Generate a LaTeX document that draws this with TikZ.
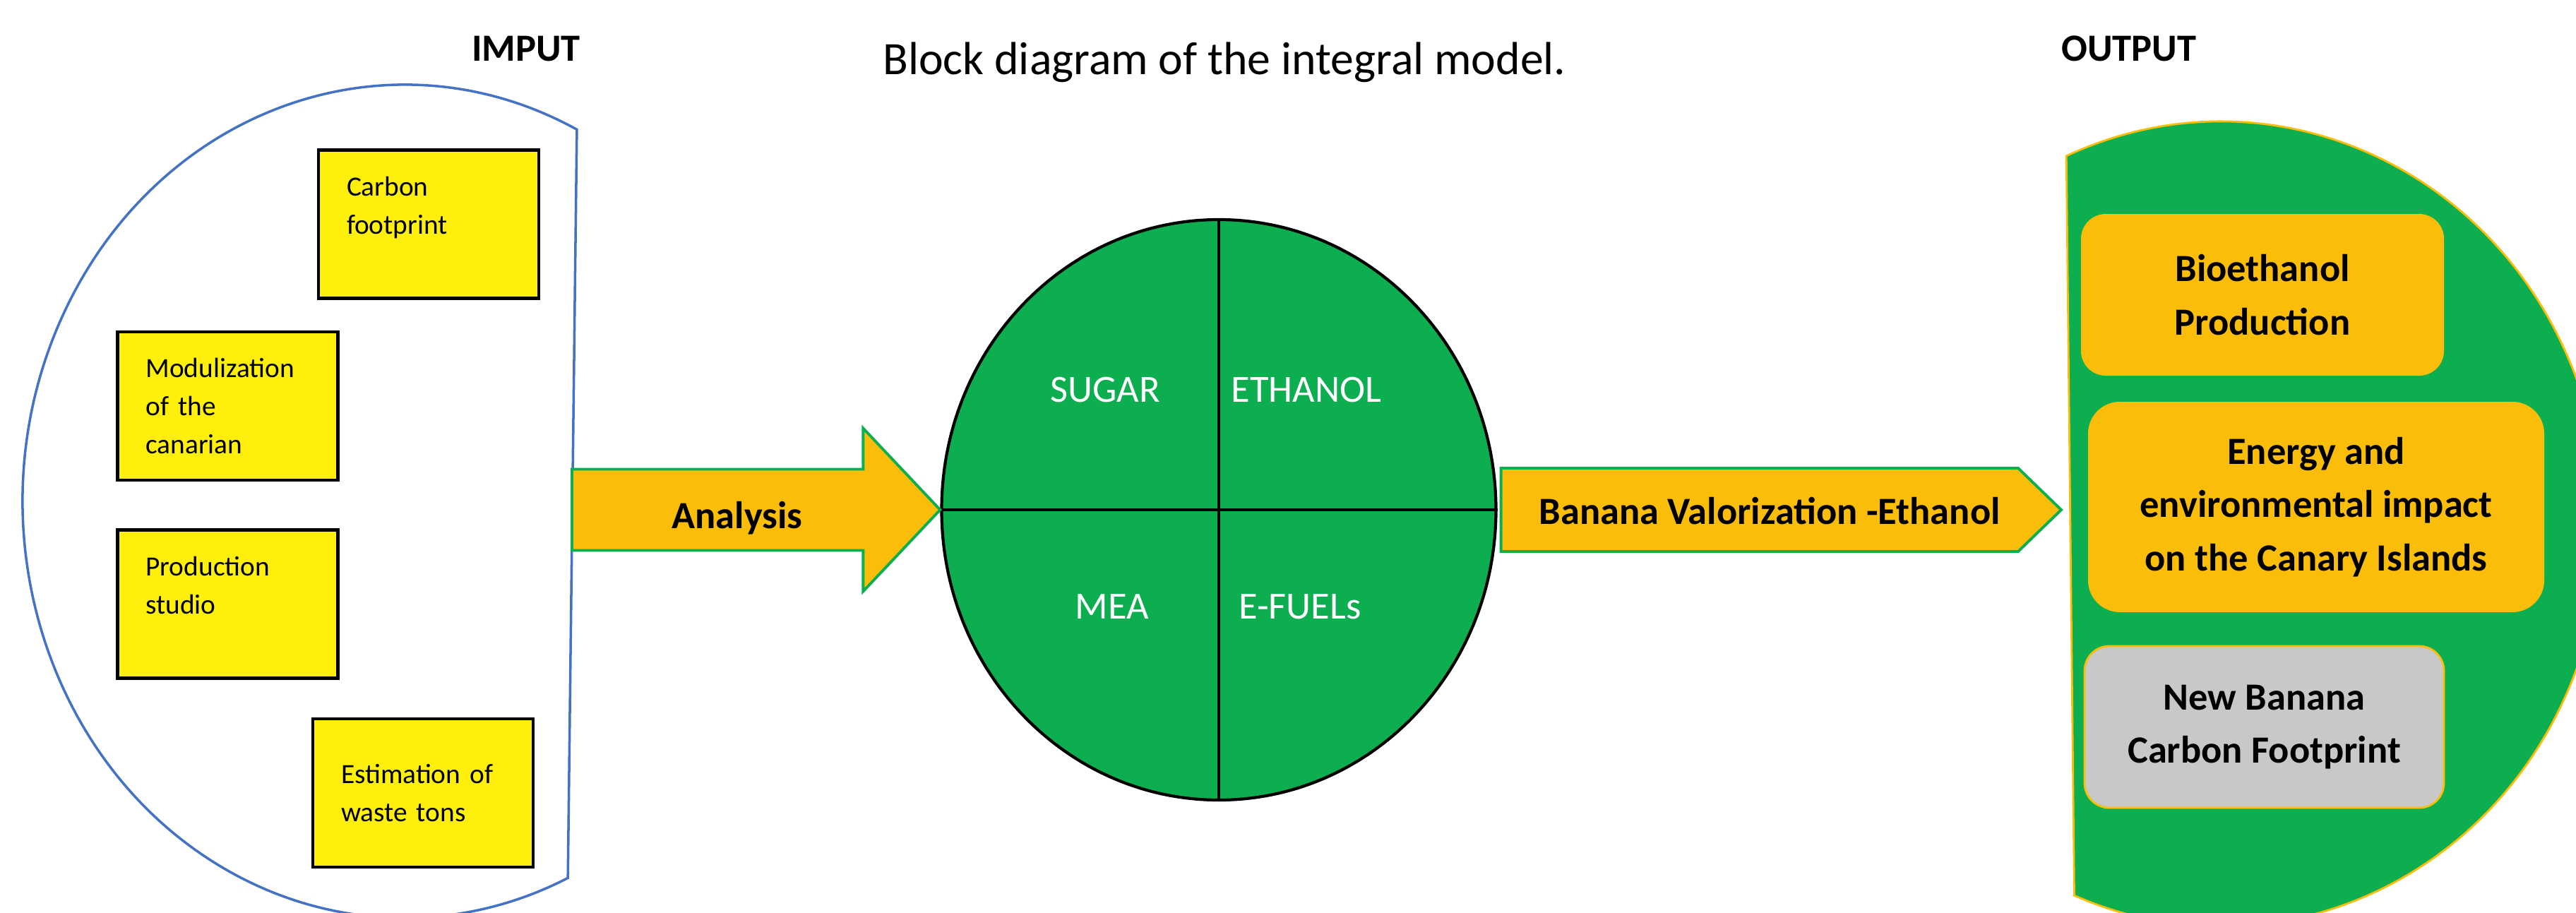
\documentclass[tikz,border=0pt]{standalone}
\usepackage{fontspec}
\setmainfont{Carlito}
\usepackage{xcolor}
\usepackage{tikz}
\usetikzlibrary{
  positioning,
  calc,
  shapes.geometric
}
\definecolor{InBlue}{RGB}{68,114,196}
\definecolor{BoxYellow}{RGB}{255,239,12}
\definecolor{Gold}{RGB}{250,190,10}
\definecolor{LeafGreen}{RGB}{12,174,80}
\definecolor{SoftGray}{RGB}{200,200,200}

\begin{document}
\begin{tikzpicture}[
  font=\fontsize{15.5}{18.6}\selectfont,
  inbox/.style={
    draw=black,
    line width=1.4pt,
    fill=BoxYellow,
    minimum width=3.12cm,
    minimum height=2.1cm,
    text width=2.32cm,
    inner sep=0pt,
    align=left,
    font=\fontsize{11.2}{15.3}\selectfont,
  },
  outbox/.style={
    fill=Gold,
    rounded corners=0.35cm,
    inner sep=0pt,
    align=center,
    font=\bfseries\fontsize{15.5}{21.5}\selectfont,
  },
  blockarrow/.style={draw=LeafGreen, line width=1.1pt, fill=Gold, line join=miter},
  arrowlab/.style={anchor=base, font=\bfseries\fontsize{15.5}{18.6}\selectfont},
  quad/.style={text=white, anchor=base},
  head/.style={font=\bfseries\fontsize{15.5}{18.6}\selectfont, anchor=base},
]
  \useasboundingbox (0,0) rectangle (36.48,12.92);

  % -------- headings --------
  \node[anchor=base, font=\fontsize{18.7}{22}\selectfont] (title) at (17.34,11.87)
    {Block diagram of the integral model.};
  \node[head] (inhead) at (7.45,12.05) {IMPUT};
  \node[head] (outhead) at (30.15,12.05) {OUTPUT};

  % -------- input side: cut ellipse with the four data boxes --------
  \draw[InBlue, line width=1pt]
    ([shift={(5.73,5.82)}]63.2:5.41 and 5.9)
    arc[start angle=63.2, end angle=295.3, x radius=5.41cm, y radius=5.9cm] -- cycle;
  \coordinate (inport) at (8.10,5.70);

  \node[inbox] (carbon) at (6.07,9.745) {Carbon\\footprint\\\mbox{}};
  \node[inbox] (modul) at (3.225,7.17) {Modulization\\of the\\canarian};
  \node[inbox, below=6.6mm of modul] (prod) {Production\\studio\\\mbox{}};
  \node[inbox] (waste) at (5.99,1.69) {Estimation of\\waste tons};

  % -------- central model --------
  \node[ellipse, draw=black, line width=1.2pt, fill=LeafGreen, inner sep=0pt,
        minimum width=7.85cm, minimum height=8.22cm] (core) at (17.26,5.70) {};
  \draw[line width=1pt] (core.north) -- (core.south);
  \draw[line width=1pt] (core.west) -- (core.east);

  \node[quad] (sugar) at ([shift={(-1.61,1.53)}]core.center) {SUGAR};
  \node[quad] (ethanol) at ([shift={(1.24,1.53)}]core.center) {ETHANOL};
  \node[quad] (mea) at ([shift={(-1.51,-1.54)}]core.center) {MEA};
  \node[quad] (efuel) at ([shift={(1.15,-1.54)}]core.center) {E-FUELs};

  % -------- output side --------
  \draw[Gold, line width=0.8pt, fill=LeafGreen]
    ([shift={(31.45,5.50)}]113.9:5.4 and 5.7)
    arc[start angle=113.9, end angle=-112.6, x radius=5.4cm, y radius=5.7cm] -- cycle;
  \coordinate (outtip) at (29.19,5.70);

  \node[outbox, minimum width=5.14cm, minimum height=2.29cm] (bio) at (32.04,8.745)
    {Bioethanol\\Production};
  \node[outbox, rounded corners=0.45cm, minimum width=6.46cm, minimum height=2.98cm]
    (impact) at (32.80,5.74) {Energy and\\environmental impact\\on the Canary Islands};
  \node[outbox, draw=Gold, line width=0.8pt, fill=SoftGray,
        minimum width=5.09cm, minimum height=2.29cm] (newcf) at (32.065,2.625)
    {New Banana\\Carbon Footprint};

  % -------- block arrows --------
  \draw[blockarrow] ([yshift=5.75mm]inport)
    -- ([xshift=-10.9mm, yshift=5.75mm]core.west)
    -- ([xshift=-10.9mm, yshift=11.55mm]core.west)
    -- (core.west)
    -- ([xshift=-10.9mm, yshift=-11.55mm]core.west)
    -- ([xshift=-10.9mm, yshift=-5.75mm]core.west)
    -- ([yshift=-5.75mm]inport) -- cycle;
  \node[arrowlab] (analysis) at (10.44,5.44) {Analysis};

  \draw[blockarrow] ([xshift=0.5mm, yshift=5.9mm]core.east)
    -- ([xshift=-6.1mm, yshift=5.9mm]outtip)
    -- (outtip)
    -- ([xshift=-6.1mm, yshift=-5.9mm]outtip)
    -- ([xshift=0.5mm, yshift=-5.9mm]core.east) -- cycle;
  \node[arrowlab] (valor) at (25.06,5.50) {Banana Valorization -Ethanol};
\end{tikzpicture}
\end{document}
